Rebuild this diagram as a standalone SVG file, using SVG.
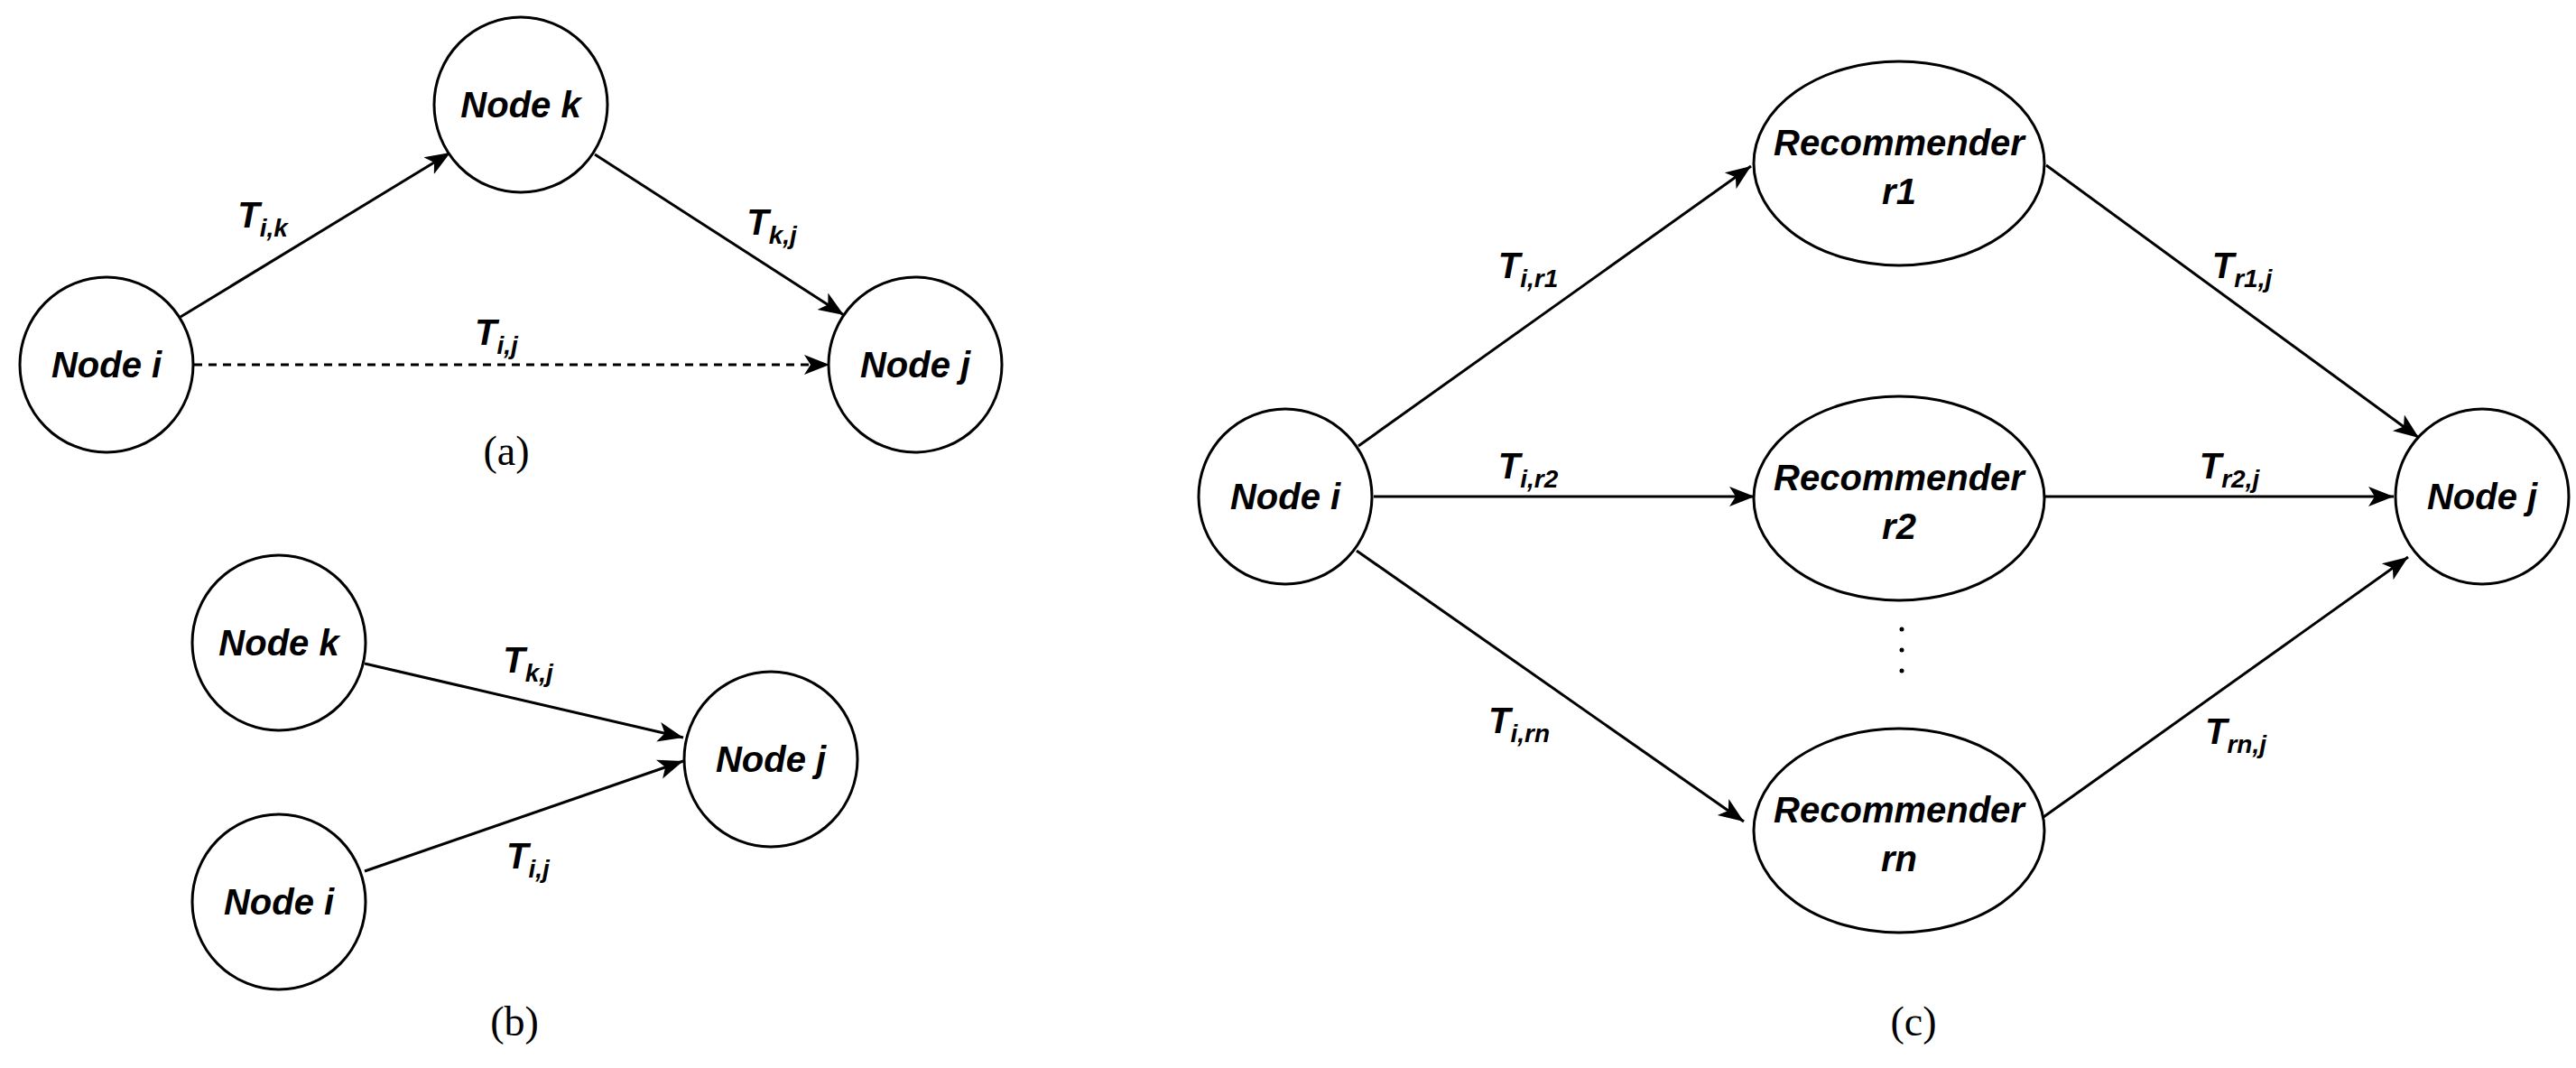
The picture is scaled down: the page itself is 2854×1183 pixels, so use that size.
<svg xmlns="http://www.w3.org/2000/svg" width="2854" height="1183" viewBox="0 0 2854 1183">
<style>
.n{fill:#fff;stroke:#000;stroke-width:3}
.t{font-family:"Liberation Sans",Arial,sans-serif;font-weight:bold;font-style:italic;font-size:40px;text-anchor:middle}
.l{font-family:"Liberation Sans",Arial,sans-serif;font-weight:bold;font-style:italic;font-size:40px;text-anchor:middle}
.s{font-size:28px}
.cap{font-family:"Liberation Serif","Times New Roman",serif;font-size:46px;text-anchor:middle}
.e{stroke:#000;stroke-width:3;fill:none;marker-end:url(#a)}
</style>
<defs>
<marker id="a" markerUnits="userSpaceOnUse" markerWidth="30" markerHeight="30" viewBox="0 0 30 30" refX="28" refY="15" orient="auto">
<path d="M0,4 L28,15 L0,26 L7,15 Z" fill="#000"/>
</marker>
</defs>
<g id="connectors">
<line class="e" x1="200" y1="351" x2="499" y2="169"/>
<line class="e" x1="659" y1="171" x2="935" y2="349"/>
<line class="e" x1="215" y1="404" x2="919" y2="404" stroke-dasharray="9,7"/>
<line class="e" x1="404" y1="735" x2="757" y2="817"/>
<line class="e" x1="404" y1="965" x2="757" y2="843"/>
<line class="e" x1="1505" y1="494" x2="1940" y2="184"/>
<line class="e" x1="1522" y1="550" x2="1944" y2="550"/>
<line class="e" x1="1503" y1="610" x2="1932" y2="910"/>
<line class="e" x1="2267" y1="183" x2="2680" y2="485"/>
<line class="e" x1="2265" y1="550" x2="2652" y2="550"/>
<line class="e" x1="2257" y1="910" x2="2668" y2="617"/>
</g>
<g id="labels">
<text class="l" x="291" y="252">T<tspan class="s" dy="10">i,k</tspan></text>
<text class="l" x="855" y="260">T<tspan class="s" dy="10">k,j</tspan></text>
<text class="l" x="550" y="382">T<tspan class="s" dy="10">i,j</tspan></text>
<text class="l" x="585" y="745">T<tspan class="s" dy="10">k,j</tspan></text>
<text class="l" x="585" y="962">T<tspan class="s" dy="10">i,j</tspan></text>
<text class="l" x="1693" y="308">T<tspan class="s" dy="10">i,r1</tspan></text>
<text class="l" x="2484" y="308">T<tspan class="s" dy="10">r1,j</tspan></text>
<text class="l" x="1693" y="530">T<tspan class="s" dy="10">i,r2</tspan></text>
<text class="l" x="2470" y="530">T<tspan class="s" dy="10">r2,j</tspan></text>
<text class="l" x="1683" y="812">T<tspan class="s" dy="10">i,rn</tspan></text>
<text class="l" x="2477" y="824">T<tspan class="s" dy="10">rn,j</tspan></text>
<circle cx="2107" cy="697" r="2.5"/><circle cx="2107" cy="720" r="2.5"/><circle cx="2107" cy="743" r="2.5"/>
<text class="cap" x="561" y="515">(a)</text>
<text class="cap" x="570" y="1147">(b)</text>
<text class="cap" x="2120" y="1147">(c)</text>
</g>
<g id="a-node-i"><ellipse class="n" cx="118" cy="404" rx="96" ry="97"/><text class="t" x="118" y="418">Node i</text></g>
<g id="a-node-k"><ellipse class="n" cx="577" cy="116" rx="96" ry="97"/><text class="t" x="577" y="130">Node k</text></g>
<g id="a-node-j"><ellipse class="n" cx="1014" cy="404" rx="96" ry="97"/><text class="t" x="1014" y="418">Node j</text></g>
<g id="b-node-k"><ellipse class="n" cx="309" cy="712" rx="96" ry="97"/><text class="t" x="309" y="726">Node k</text></g>
<g id="b-node-i"><ellipse class="n" cx="309" cy="999" rx="96" ry="97"/><text class="t" x="309" y="1013">Node i</text></g>
<g id="b-node-j"><ellipse class="n" cx="854" cy="841" rx="96" ry="97"/><text class="t" x="854" y="855">Node j</text></g>
<g id="c-node-i"><ellipse class="n" cx="1424" cy="550" rx="96" ry="97"/><text class="t" x="1424" y="564">Node i</text></g>
<g id="c-node-j"><ellipse class="n" cx="2750" cy="550" rx="96" ry="97"/><text class="t" x="2750" y="564">Node j</text></g>
<g id="rec-r1"><ellipse class="n" cx="2104" cy="181" rx="161" ry="113"/><text class="t" x="2104" y="172">Recommender</text><text class="t" x="2104" y="226">r1</text></g>
<g id="rec-r2"><ellipse class="n" cx="2104" cy="552" rx="161" ry="113"/><text class="t" x="2104" y="543">Recommender</text><text class="t" x="2104" y="597">r2</text></g>
<g id="rec-rn"><ellipse class="n" cx="2104" cy="920" rx="161" ry="113"/><text class="t" x="2104" y="911">Recommender</text><text class="t" x="2104" y="965">rn</text></g>
</svg>
